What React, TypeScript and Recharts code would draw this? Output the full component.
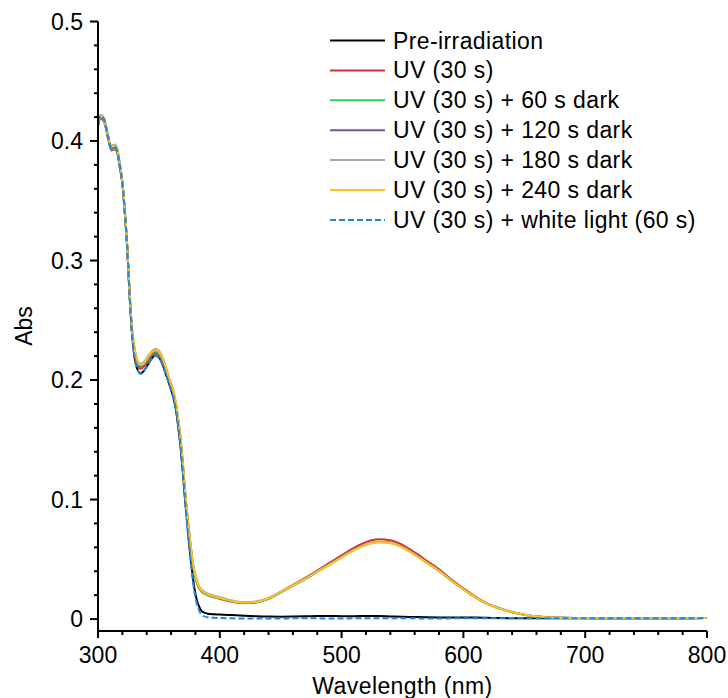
import React from 'react';
import { LineChart, Line, XAxis, YAxis, Legend, Label } from 'recharts';

// ---------- DATA ----------
const wavelengths = [300,302,305,308,311,314,316,318,320,322,324,326,328,330,332,335,338,341,344,347,350,353,356,359,362,364,366,368,370,372,374,376,378,380,382,384,386,390,395,400,410,420,430,440,450,460,470,480,490,500,510,520,530,540,550,560,570,580,590,600,610,620,630,640,650,660,670,680,700,720,740,760,780,800];

const preIrradiation = [0.417,0.421,0.418,0.405,0.394,0.395,0.391,0.379,0.365,0.341,
 0.311,0.27,0.238,0.219,0.21,0.2055,0.208,0.213,0.218,0.2205,
 0.219,0.213,0.204,0.195,0.185,0.175,0.16,0.142,0.118,0.094,
 0.072,0.052,0.034,0.021,0.013,0.0085,0.006,0.0045,0.004,0.0038,
 0.0033,0.0028,0.0024,0.0021,0.002,0.0021,0.0023,0.0026,0.0026,0.0024,
 0.0024,0.0026,0.0025,0.0022,0.0019,0.0017,0.0015,0.0014,0.0014,0.0013,
 0.0012,0.001,0.0008,0.0007,0.0006,0.0006,0.0006,0.0006,0.0006,0.0006,
 0.0006,0.0006,0.0007,0.0008];

const uv30 = [0.412,0.419,0.416,0.403,0.392,0.393,0.389,0.377,0.364,0.34,
 0.31,0.27,0.24,0.222,0.213,0.2095,0.2115,0.216,0.22,0.222,
 0.2205,0.215,0.2065,0.197,0.188,0.178,0.164,0.147,0.124,0.099,
 0.078,0.06,0.044,0.0345,0.028,0.0242,0.0222,0.0199,0.0184,0.017,
 0.0146,0.0134,0.0142,0.0173,0.0228,0.0286,0.0344,0.0406,0.047,0.0533,
 0.0596,0.0644,0.0667,0.066,0.0621,0.0558,0.0487,0.0416,0.0333,0.0257,
 0.0186,0.0129,0.009,0.0059,0.0037,0.0023,0.0015,0.001,0.0008,0.0007,
 0.0006,0.0006,0.0007,0.0008];

const dark60 = [0.413,0.42,0.417,0.404,0.393,0.394,0.39,0.378,0.365,0.341,
 0.311,0.271,0.241,0.224,0.215,0.211,0.213,0.2175,0.2215,0.2235,
 0.222,0.2165,0.2075,0.198,0.189,0.179,0.165,0.148,0.125,0.1,
 0.079,0.061,0.045,0.035,0.0283,0.0244,0.0224,0.02,0.0185,0.017,
 0.0145,0.0132,0.0139,0.0169,0.0222,0.0278,0.0334,0.0395,0.0457,0.0518,
 0.0579,0.0624,0.0646,0.0639,0.0601,0.0541,0.0472,0.0403,0.0323,0.0249,
 0.018,0.0125,0.0087,0.0057,0.0036,0.0022,0.0014,0.001,0.0008,0.0007,
 0.0006,0.0006,0.0007,0.0008];

const dark120 = [0.414,0.421,0.418,0.405,0.394,0.395,0.391,0.379,0.365,0.341,
 0.311,0.271,0.241,0.225,0.216,0.2115,0.2135,0.218,0.222,0.224,
 0.2225,0.217,0.208,0.198,0.189,0.179,0.165,0.148,0.125,0.1,
 0.079,0.061,0.045,0.0355,0.0287,0.0248,0.0228,0.0203,0.0188,0.0173,
 0.0148,0.0135,0.0141,0.017,0.0223,0.0279,0.0334,0.0395,0.0456,0.0517,
 0.0578,0.0623,0.0645,0.0638,0.06,0.054,0.0472,0.0403,0.0323,0.0249,
 0.018,0.0125,0.0087,0.0057,0.0036,0.0022,0.0014,0.001,0.0008,0.0007,
 0.0006,0.0006,0.0007,0.0008];

const dark180 = [0.416,0.422,0.419,0.406,0.396,0.397,0.393,0.381,0.367,0.343,
 0.313,0.273,0.243,0.227,0.218,0.2135,0.2155,0.22,0.224,0.226,
 0.2245,0.219,0.21,0.2,0.191,0.181,0.167,0.15,0.127,0.102,
 0.081,0.063,0.047,0.037,0.0298,0.0258,0.0238,0.0213,0.0197,0.0182,
 0.0155,0.0142,0.0148,0.0176,0.0228,0.0283,0.0338,0.0398,0.0458,0.0519,
 0.0579,0.0625,0.0647,0.064,0.0602,0.0541,0.0473,0.0404,0.0324,0.025,
 0.0181,0.0126,0.0088,0.0058,0.0036,0.0022,0.0014,0.001,0.0008,0.0007,
 0.0006,0.0006,0.0007,0.0008];

const dark240 = [0.415,0.421,0.418,0.405,0.395,0.396,0.392,0.38,0.366,0.342,
 0.312,0.272,0.242,0.226,0.217,0.2125,0.2145,0.219,0.223,0.225,
 0.2235,0.218,0.209,0.199,0.19,0.18,0.166,0.149,0.126,0.101,
 0.08,0.062,0.046,0.036,0.029,0.025,0.023,0.0205,0.019,0.0175,
 0.015,0.0137,0.0143,0.0172,0.0225,0.028,0.0335,0.0395,0.0455,0.0515,
 0.0575,0.062,0.0642,0.0635,0.0598,0.0538,0.047,0.0402,0.0322,0.0248,
 0.018,0.0125,0.0087,0.0057,0.0036,0.0022,0.0014,0.001,0.0008,0.0007,
 0.0006,0.0006,0.0007,0.0008];

const whiteLight = [0.416,0.421,0.418,0.405,0.394,0.395,0.391,0.379,0.365,0.341,
 0.311,0.27,0.238,0.219,0.21,0.2055,0.208,0.213,0.218,0.2205,
 0.219,0.213,0.204,0.195,0.185,0.175,0.16,0.142,0.118,0.093,
 0.07,0.05,0.031,0.018,0.01,0.005,0.0028,0.0015,0.001,0.0008,
 0.0006,0.0005,0.0005,0.0005,0.0005,0.0006,0.0006,0.0006,0.0005,0.0005,
 0.0006,0.0006,0.0007,0.0006,0.0006,0.0006,0.0005,0.0005,0.0006,0.0006,
 0.0006,0.0006,0.0006,0.0006,0.0006,0.0006,0.0006,0.0006,0.0006,0.0006,
 0.0006,0.0006,0.0007,0.0008];

const xTicks = [300,320,340,360,380,400,420,440,460,480,500,520,540,560,580,600,620,640,660,680,700,720,740,760,780,800];
const xMajor = [300,400,500,600,700,800];
const yTicks = [0,0.02,0.04,0.06,0.08,0.1,0.12,0.14,0.16,0.18,0.2,0.22,0.24,0.26,0.28,0.3,0.32,0.34,0.36,0.38,0.4,0.42,0.44,0.46,0.48,0.5];
const yMajor = [0,0.1,0.2,0.3,0.4,0.5];
const yMajorLabels = ['0','0.1','0.2','0.3','0.4','0.5'];

const seriesNames = [
  'Pre-irradiation',
  'UV (30 s)',
  'UV (30 s) + 60 s dark',
  'UV (30 s) + 120 s dark',
  'UV (30 s) + 180 s dark',
  'UV (30 s) + 240 s dark',
  'UV (30 s) + white light (60 s)',
];
const seriesKeys = ['pre', 'uv', 'd60', 'd120', 'd180', 'd240', 'white'];
const seriesValues = [preIrradiation, uv30, dark60, dark120, dark180, dark240, whiteLight];

// ---------- STYLE ----------
const colors = ['#000000', '#d7302f', '#2fcc5f', '#5b5ea6', '#a5a5a5', '#ffc21a', '#1e88e0'];
const dashes = [undefined, undefined, undefined, undefined, undefined, undefined, '6 3'];
const FONT = '"Liberation Sans", Arial, sans-serif';
const W = 728;
const H = 698;
const PLOT_LEFT = 98;
const PLOT_BOTTOM = 631;

const data = wavelengths.map((w, i) => {
  const row: Record<string, number> = { w };
  seriesKeys.forEach((k, j) => { row[k] = seriesValues[j][i]; });
  return row;
});

const XTick = (props: any) => {
  const { x, payload } = props;
  const v = payload.value;
  const major = xMajor.includes(v);
  return (
    <g>
      <line x1={x} x2={x} y1={PLOT_BOTTOM} y2={PLOT_BOTTOM + (major ? 7 : 4)} stroke="#000" strokeWidth={2} />
      {major && (
        <text x={x} y={PLOT_BOTTOM + 32} textAnchor="middle" fontFamily={FONT} fontSize={23} fill="#000">
          {v}
        </text>
      )}
    </g>
  );
};

const YTick = (props: any) => {
  const { y, payload } = props;
  const v = payload.value;
  const idx = yMajor.findIndex((m) => Math.abs(m - v) < 1e-9);
  const major = idx >= 0;
  return (
    <g>
      <line x1={PLOT_LEFT - (major ? 8 : 4)} x2={PLOT_LEFT} y1={y} y2={y} stroke="#000" strokeWidth={2} />
      {major && (
        <text x={PLOT_LEFT - 15} y={y + 8.2} textAnchor="end" fontFamily={FONT} fontSize={23} fill="#000">
          {yMajorLabels[idx]}
        </text>
      )}
    </g>
  );
};

const LegendContent = () => (
  <svg width={728} height={240} style={{ display: 'block' }}>
    {seriesNames.map((name, i) => {
      const cy = 40.5 + i * 29.9;
      return (
        <g key={name}>
          <line x1={330} x2={385} y1={cy} y2={cy} stroke={colors[i]} strokeWidth={2} strokeDasharray={dashes[i]} />
          <text x={393} y={cy + 8} fontFamily={FONT} fontSize={23} letterSpacing={0.4} fill="#000">
            {name}
          </text>
        </g>
      );
    })}
  </svg>
);

export default function App() {
  return (
    <div style={{ position: 'absolute', left: 0, top: 0, width: W, height: H, background: '#fff' }}>
      <LineChart
        width={W}
        height={H}
        data={data}
        margin={{ top: 21.5, right: 21, bottom: 7, left: 38 }}
      >
        <XAxis
          dataKey="w"
          type="number"
          domain={[300, 800]}
          ticks={xTicks}
          interval={0}
          height={60}
          tickLine={false}
          axisLine={{ stroke: '#000', strokeWidth: 2 }}
          tick={<XTick />}
        >
          <Label
            content={() => (
              <text x={(PLOT_LEFT + 707) / 2} y={694} textAnchor="middle" fontFamily={FONT} fontSize={23} letterSpacing={0.4} fill="#000">
                Wavelength (nm)
              </text>
            )}
          />
        </XAxis>
        <YAxis
          type="number"
          domain={[-0.01, 0.5]}
          ticks={yTicks}
          interval={0}
          width={60}
          allowDataOverflow
          tickLine={false}
          axisLine={{ stroke: '#000', strokeWidth: 2 }}
          tick={<YTick />}
        >
          <Label
            content={() => (
              <text x={32} y={326} transform="rotate(-90 32 326)" textAnchor="middle" fontFamily={FONT} fontSize={23} fill="#000">
                Abs
              </text>
            )}
          />
        </YAxis>
        <Legend
          layout="vertical"
          align="center"
          verticalAlign="middle"
          wrapperStyle={{ left: 0, top: 0, width: 728, height: 240 }}
          content={<LegendContent />}
        />
        {seriesKeys.map((k, i) => (
          <Line
            key={k}
            dataKey={k}
            name={seriesNames[i]}
            type="monotone"
            stroke={colors[i]}
            strokeWidth={2}
            strokeDasharray={dashes[i]}
            dot={false}
            activeDot={false}
            isAnimationActive={false}
          />
        ))}
      </LineChart>
    </div>
  );
}
